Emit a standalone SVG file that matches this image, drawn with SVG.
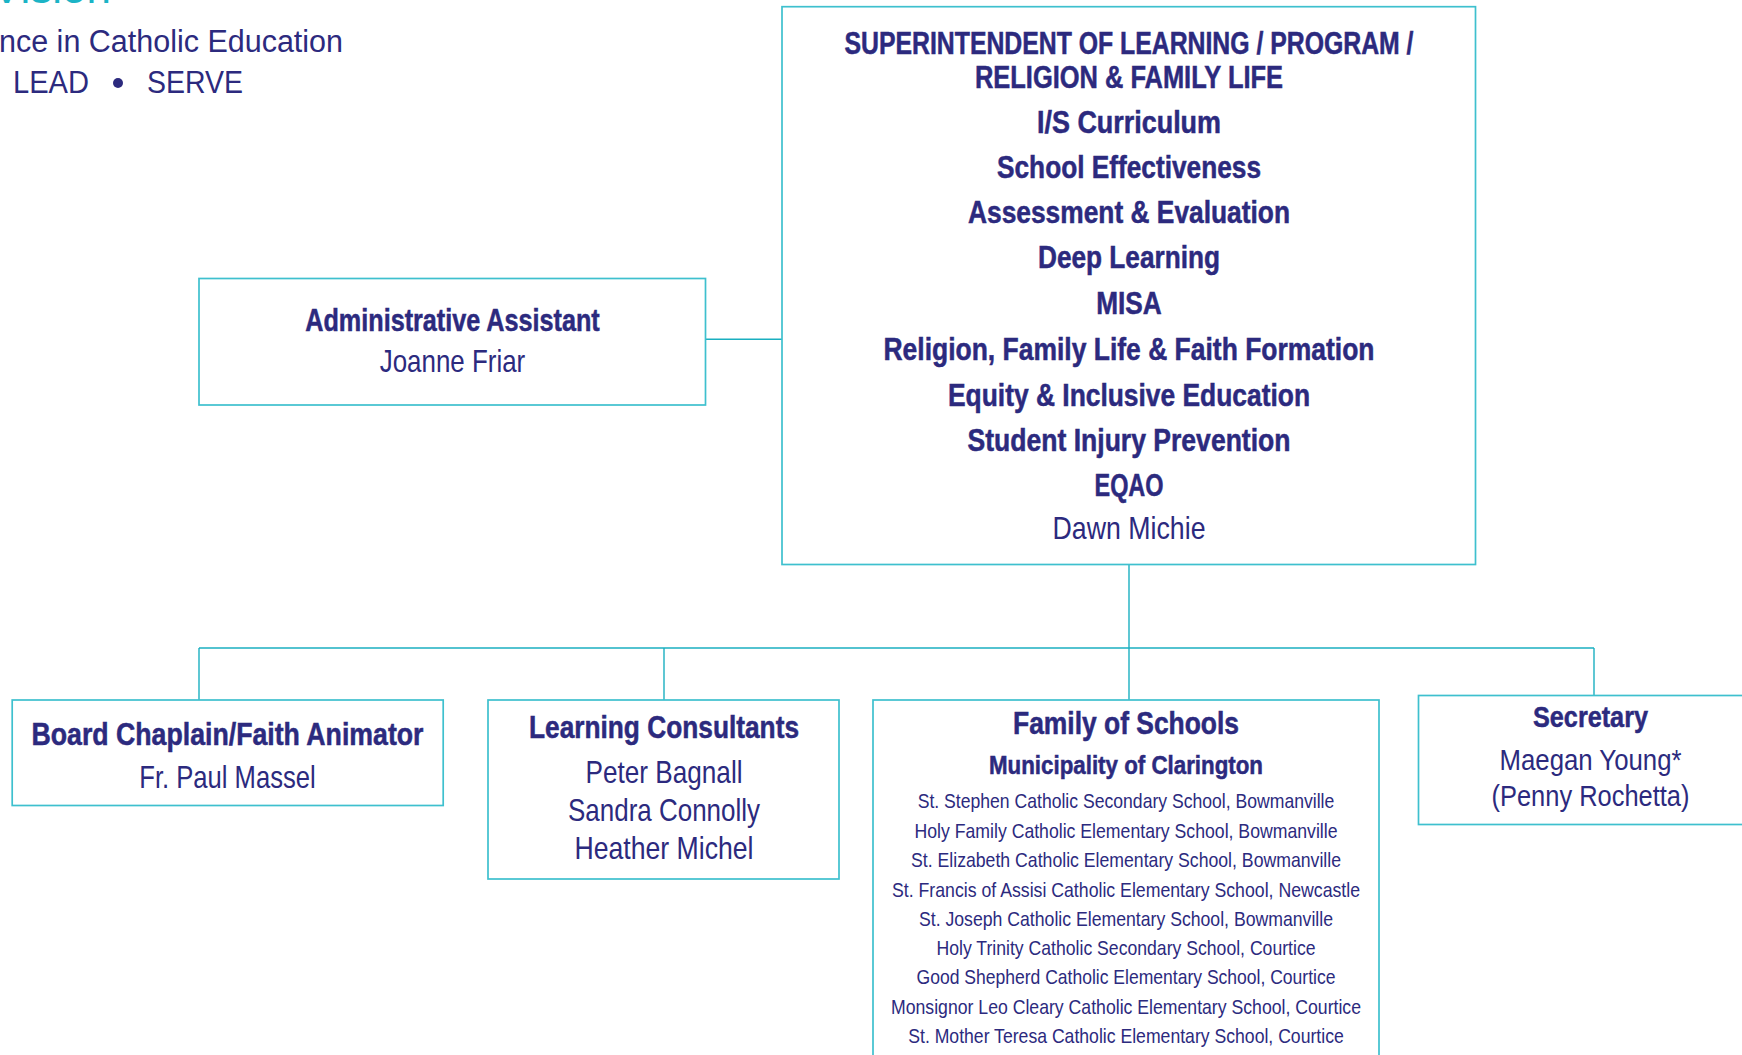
<svg xmlns="http://www.w3.org/2000/svg" width="1742" height="1055" viewBox="0 0 1742 1055">
<style>
.box{fill:#ffffff;stroke:#3ec0ce;stroke-width:1.7}
.conn{fill:none;stroke:#1aafc0;stroke-width:1.4}
.t{font-family:"Liberation Sans Narrow","Liberation Sans",Arial,sans-serif;fill:#2c2a7e;text-anchor:middle}
.b{font-weight:bold;stroke:#2c2a7e;stroke-width:0.5}
.h{font-family:"Liberation Sans",Arial,sans-serif;fill:#2c2a7e}
</style>
<rect width="1742" height="1055" fill="#ffffff"/>
<g id="header">
<text x="111" y="3" font-family="Liberation Sans, Arial, sans-serif" font-size="44" fill="#1bb4c6" text-anchor="end">Vision</text>
<text class="h" x="-1" y="52" font-size="31" textLength="344" lengthAdjust="spacingAndGlyphs">nce in Catholic Education</text>
<text class="h" x="13" y="93" font-size="31" textLength="76" lengthAdjust="spacingAndGlyphs">LEAD</text>
<circle cx="118" cy="83" r="5" fill="#2c2a7e"/>
<text class="h" x="147" y="93" font-size="31" textLength="96" lengthAdjust="spacingAndGlyphs">SERVE</text>
</g>
<g id="connectors">
<line class="conn" x1="705.5" y1="339.3" x2="782" y2="339.3"/>
<line class="conn" x1="1129" y1="564.5" x2="1129" y2="700"/>
<line class="conn" x1="199" y1="648" x2="1594" y2="648"/>
<line class="conn" x1="199" y1="648" x2="199" y2="700"/>
<line class="conn" x1="664" y1="648" x2="664" y2="700"/>
<line class="conn" x1="1594" y1="648" x2="1594" y2="695.5"/>
</g>
<g id="superintendent">
<rect class="box" x="782" y="6.7" width="693.5" height="557.8"/>
<text class="t b" x="1129" y="53.5" font-size="30.5" textLength="569" lengthAdjust="spacingAndGlyphs">SUPERINTENDENT OF LEARNING / PROGRAM /</text>
<text class="t b" x="1129" y="87.5" font-size="30.5" textLength="308" lengthAdjust="spacingAndGlyphs">RELIGION &amp; FAMILY LIFE</text>
<text class="t b" x="1129" y="133.3" font-size="30.5" textLength="184" lengthAdjust="spacingAndGlyphs">I/S Curriculum</text>
<text class="t b" x="1129" y="178.3" font-size="30.5" textLength="264" lengthAdjust="spacingAndGlyphs">School Effectiveness</text>
<text class="t b" x="1129" y="223.3" font-size="30.5" textLength="322" lengthAdjust="spacingAndGlyphs">Assessment &amp; Evaluation</text>
<text class="t b" x="1129" y="268.3" font-size="30.5" textLength="182" lengthAdjust="spacingAndGlyphs">Deep Learning</text>
<text class="t b" x="1129" y="314.3" font-size="30.5" textLength="65.5" lengthAdjust="spacingAndGlyphs">MISA</text>
<text class="t b" x="1129" y="360" font-size="30.5" textLength="491" lengthAdjust="spacingAndGlyphs">Religion, Family Life &amp; Faith Formation</text>
<text class="t b" x="1129" y="406" font-size="30.5" textLength="362" lengthAdjust="spacingAndGlyphs">Equity &amp; Inclusive Education</text>
<text class="t b" x="1129" y="451" font-size="30.5" textLength="323" lengthAdjust="spacingAndGlyphs">Student Injury Prevention</text>
<text class="t b" x="1129" y="495.5" font-size="30.5" textLength="69" lengthAdjust="spacingAndGlyphs">EQAO</text>
<text class="t" x="1129" y="538.5" font-size="30.5" textLength="153" lengthAdjust="spacingAndGlyphs">Dawn Michie</text>
</g>
<g id="admin">
<rect class="box" x="199" y="278.5" width="506.5" height="126.5"/>
<text class="t b" x="452.5" y="331" font-size="30.5" textLength="294.5" lengthAdjust="spacingAndGlyphs">Administrative Assistant</text>
<text class="t" x="452.5" y="372" font-size="30.5" textLength="145.5" lengthAdjust="spacingAndGlyphs">Joanne Friar</text>
</g>
<g id="chaplain">
<rect class="box" x="12.2" y="700" width="431" height="105.5"/>
<text class="t b" x="227.5" y="745" font-size="30.5" textLength="392" lengthAdjust="spacingAndGlyphs">Board Chaplain/Faith Animator</text>
<text class="t" x="227.5" y="788" font-size="30.5" textLength="176.5" lengthAdjust="spacingAndGlyphs">Fr. Paul Massel</text>
</g>
<g id="consultants">
<rect class="box" x="488" y="700" width="351" height="179"/>
<text class="t b" x="664" y="737.5" font-size="30.5" textLength="270" lengthAdjust="spacingAndGlyphs">Learning Consultants</text>
<text class="t" x="664" y="782.5" font-size="30.5" textLength="157" lengthAdjust="spacingAndGlyphs">Peter Bagnall</text>
<text class="t" x="664" y="821" font-size="30.5" textLength="192" lengthAdjust="spacingAndGlyphs">Sandra Connolly</text>
<text class="t" x="664" y="858.5" font-size="30.5" textLength="179" lengthAdjust="spacingAndGlyphs">Heather Michel</text>
</g>
<g id="family">
<rect class="box" x="873" y="700" width="506" height="380"/>
<text class="t b" x="1126" y="733.5" font-size="30.5" textLength="226" lengthAdjust="spacingAndGlyphs">Family of Schools</text>
<text class="t b" x="1126" y="773.5" font-size="25.5" textLength="274" lengthAdjust="spacingAndGlyphs">Municipality of Clarington</text>
<text class="t" x="1126" y="808" font-size="21" textLength="416.6" lengthAdjust="spacingAndGlyphs">St. Stephen Catholic Secondary School, Bowmanville</text>
<text class="t" x="1126" y="837.5" font-size="21" textLength="423" lengthAdjust="spacingAndGlyphs">Holy Family Catholic Elementary School, Bowmanville</text>
<text class="t" x="1126" y="867" font-size="21" textLength="430" lengthAdjust="spacingAndGlyphs">St. Elizabeth Catholic Elementary School, Bowmanville</text>
<text class="t" x="1126" y="896.5" font-size="21" textLength="468" lengthAdjust="spacingAndGlyphs">St. Francis of Assisi Catholic Elementary School, Newcastle</text>
<text class="t" x="1126" y="926" font-size="21" textLength="414" lengthAdjust="spacingAndGlyphs">St. Joseph Catholic Elementary School, Bowmanville</text>
<text class="t" x="1126" y="955" font-size="21" textLength="379" lengthAdjust="spacingAndGlyphs">Holy Trinity Catholic Secondary School, Courtice</text>
<text class="t" x="1126" y="984" font-size="21" textLength="419" lengthAdjust="spacingAndGlyphs">Good Shepherd Catholic Elementary School, Courtice</text>
<text class="t" x="1126" y="1013.5" font-size="21" textLength="470" lengthAdjust="spacingAndGlyphs">Monsignor Leo Cleary Catholic Elementary School, Courtice</text>
<text class="t" x="1126" y="1043" font-size="21" textLength="435.5" lengthAdjust="spacingAndGlyphs">St. Mother Teresa Catholic Elementary School, Courtice</text>
</g>
<g id="secretary">
<rect class="box" x="1418.5" y="695.5" width="340" height="129"/>
<text class="t b" x="1590.5" y="726.5" font-size="29" textLength="115" lengthAdjust="spacingAndGlyphs">Secretary</text>
<text class="t" x="1590.5" y="770" font-size="29" textLength="182" lengthAdjust="spacingAndGlyphs">Maegan Young*</text>
<text class="t" x="1590.5" y="806" font-size="29" textLength="198" lengthAdjust="spacingAndGlyphs">(Penny Rochetta)</text>
</g>
</svg>
